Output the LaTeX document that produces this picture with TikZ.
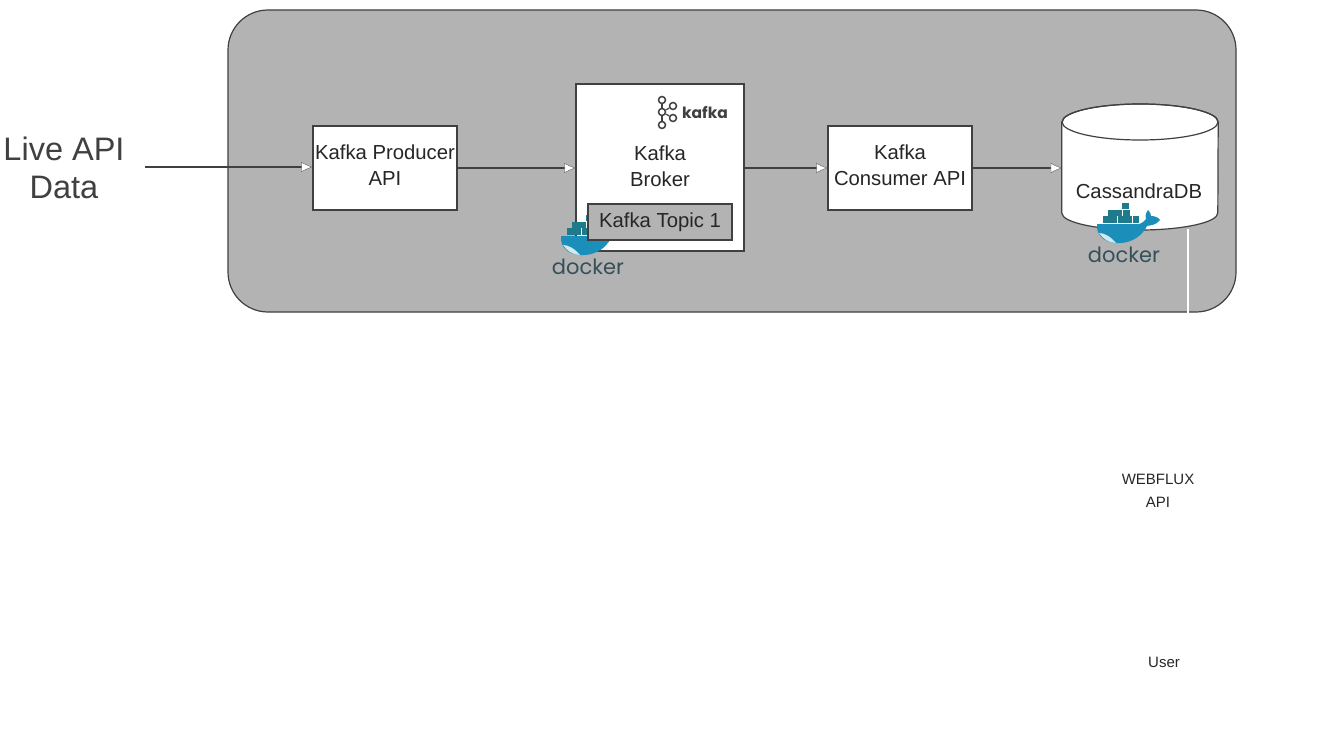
\documentclass[tikz,border=0pt]{standalone}
\usepackage{fontspec}
\setmainfont{Liberation Sans}
\newfontfamily\logofont{Poppins}
\usetikzlibrary{arrows.meta}
\definecolor{linedark}{HTML}{404040}
\definecolor{panelgray}{HTML}{B3B3B3}
\definecolor{textdark}{HTML}{262626}
\definecolor{whaleblue}{HTML}{1B8FBA}
\definecolor{boxteal}{HTML}{1F7A8C}
\definecolor{dockerink}{HTML}{36505A}
\tikzset{
	box/.style={draw=linedark, line width=1.2pt, fill=white, text=textdark, align=center, inner sep=0pt, font=\fontsize{20.3}{26}\selectfont},
	flow/.style={draw=linedark, line width=1.2pt, -{Latex[length=11pt,width=10pt,fill=white,line width=0.3pt]}},
	label/.style={text=textdark, align=center, inner sep=0pt},
	hub/.style={circle, draw=linedark, line width=1.5pt, fill=white, minimum size=7pt, inner sep=0pt},
	dockerlogo/.pic={
		\fill[whaleblue] (-27,-31) -- (10,-31) .. controls (15,-30) and (19,-32) .. (22,-36) .. controls (21,-40) and (22,-43) .. (24,-45) .. controls (26,-43) and (27,-41) .. (27,-39) .. controls (30,-39) and (34,-38) .. (36,-35) .. controls (32,-30) and (28,-30) .. (23,-29) .. controls (16,-15) and (2,-11) .. (-9,-12) .. controls (-20,-13) and (-28,-20) .. (-27,-31);
		\fill[white!80!whaleblue] (-25,-22) .. controls (-20,-22) and (-14,-19) .. (-8,-12) .. controls (-15,-12) and (-21,-16) .. (-25,-22);
		\foreach \k in {0,...,4} \fill[boxteal] (-21+\k*7.4,-39) rectangle +(6.8,6.8);
		\foreach \k in {0,...,2} \fill[boxteal] (-16+\k*7.4,-45.5) rectangle +(6.8,6);
		\fill[boxteal] (-2,-52) rectangle +(7,6);
		\node[text=dockerink, inner sep=0pt, font=\logofont\fontsize{21}{21}\selectfont] (-word) at (0,0) {docker};
	}
}
\begin{document}
\begin{tikzpicture}[x=1pt,y=-1pt]
	\useasboundingbox (0,0) rectangle (1338,749);
	\node[draw=linedark, line width=1.2pt, fill=panelgray, rounded corners=40pt, minimum width=1008pt, minimum height=302pt, inner sep=0pt] (panel) at (732,161) {};

	\node[label, font=\fontsize{32.5}{38}\selectfont, text=linedark] (live) at (64,168) {Live API\\Data};
	\coordinate (livestart) at (145,167);
	\node[box, minimum width=144pt, minimum height=84pt, text depth=5pt] (producer) at (385,168) {Kafka Producer\\API};
	\node[box, minimum width=168pt, minimum height=167pt] (broker) at (660,167.5) {};
	\node[box, minimum width=144pt, minimum height=84pt, text depth=5pt] (consumer) at (900,168) {Kafka\\Consumer API};

	% cassandra drum
	\node[minimum width=156pt, minimum height=126pt, inner sep=0pt] (db) at (1140,167) {};
	\draw[draw=linedark, line width=1.2pt, fill=white] (db.west |- 0,122) -- (db.west |- 0,213) arc[start angle=180, end angle=0, x radius=78, y radius=17] -- (db.east |- 0,122) arc[start angle=0, end angle=-180, x radius=78, y radius=18] -- cycle;
	\draw[linedark, line width=1.2pt] (db.center |- 0,122) ellipse[x radius=78, y radius=18];

	% kafka logo
	\node[hub] (hubtop) at (662,100) {};
	\node[hub] (hubmid) at (662,112) {};
	\node[hub] (hubbot) at (662,125) {};
	\node[hub] (hubup) at (673,106) {};
	\node[hub] (hubdown) at (673,118) {};
	\draw[linedark, line width=1.2pt] (hubtop) -- (hubmid) -- (hubbot);
	\draw[linedark, line width=1.2pt] (hubup) -- (hubmid) -- (hubdown);
	\node[inner sep=0pt, text=linedark, font=\logofont\bfseries\fontsize{15.5}{16}\selectfont] (kafkaword) at (705,112) {kafka};

	\node[label, font=\fontsize{20.3}{26}\selectfont] (brokertext) at (660,166) {Kafka\\Broker};
	\node[label, font=\fontsize{20.3}{26}\selectfont] (dbtext) at (1139,191) {CassandraDB};

	\pic (dockerbroker) at (588,267) {dockerlogo};
	\pic (dockerdb) at (1124,255) {dockerlogo};
	\node[box, fill=panelgray, minimum width=144pt, minimum height=36pt] (topic) at (660,222) {Kafka Topic 1};

	\draw[flow] (livestart) -- (livestart -| producer.west);
	\draw[flow] (producer.east) -- (producer.east -| broker.west);
	\draw[flow] (broker.east |- consumer.west) -- (consumer.west);
	\draw[flow] (consumer.east) -- (consumer.east -| db.west);

	\coordinate (dbfoot) at (1188,229);
	\coordinate (panelfoot) at (1188,313);
	\draw[white, line width=2.5pt] (dbfoot) -- (panelfoot);

	\node[label, font=\fontsize{15}{23}\selectfont] (webflux) at (1158,491) {WEBFLUX\\API};
	\node[label, font=\fontsize{15}{18}\selectfont] (user) at (1164,662) {User};
\end{tikzpicture}
\end{document}
